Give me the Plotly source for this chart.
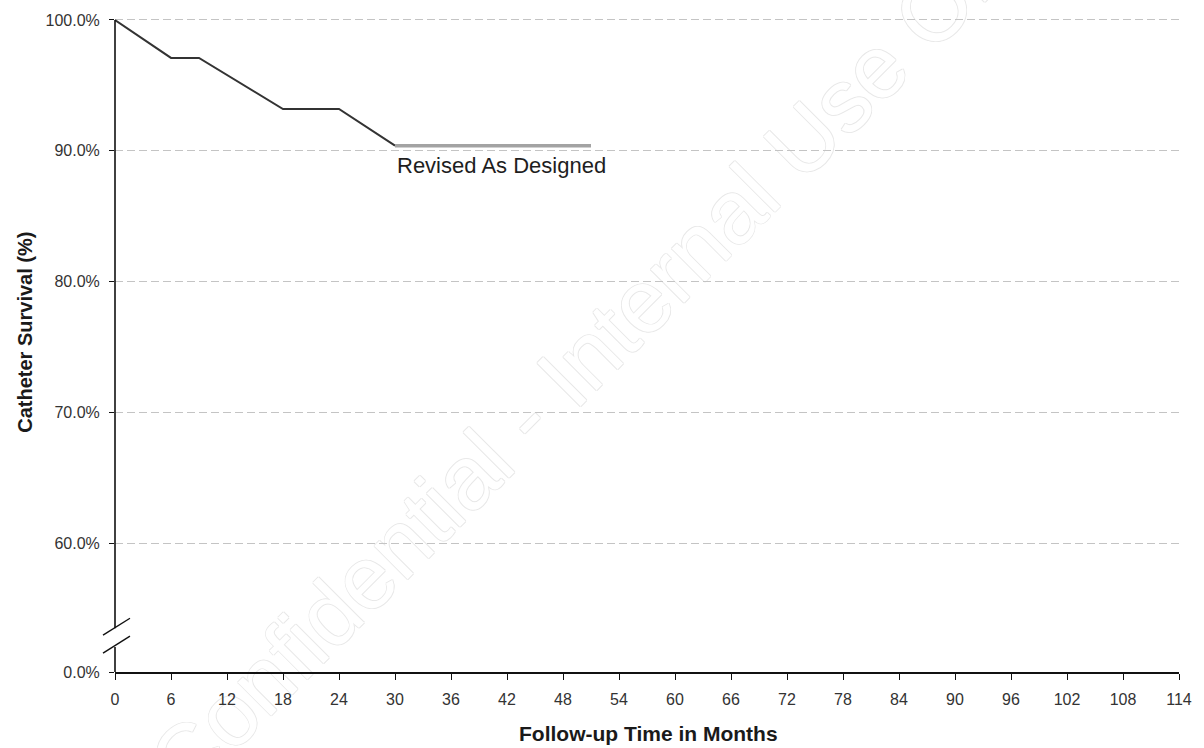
import plotly.graph_objects as go

# Catheter survival, revised-as-designed cohort (months, %)
months_step = [0, 6, 9, 18, 24, 30]
survival_step = [100.0, 97.1, 97.1, 93.2, 93.2, 90.4]
months_flat = [30, 51]
survival_flat = [90.4, 90.4]

x_ticks = list(range(0, 115, 6))
y_break_bottom = 50.19          # axis value drawn at the broken-axis origin
y_tick_vals = [y_break_bottom, 60, 70, 80, 90, 100]
y_tick_text = ["0.0%", "60.0%", "70.0%", "80.0%", "90.0%", "100.0%"]

series_label = "Revised As Designed"
watermark = "Confidential - Internal Use Only"

Y_TOP = 100.15
FONT = "Liberation Sans, Arial, sans-serif"
W, H = 1204, 748
ML, MR, MT, MB = 115, 23, 15, 76
PW = W - ML - MR
PH = H - MT - MB


def yp(v):
    """Axis value -> paper fraction."""
    return (v - y_break_bottom) / (Y_TOP - y_break_bottom)


def px_x(dx):
    """Horizontal pixel offset from the y axis -> paper fraction."""
    return dx / PW


def px_y(py):
    """Absolute page pixel row -> paper fraction."""
    return (H - MB - py) / PH


fig = go.Figure()

fig.add_trace(go.Scatter(
    x=months_step, y=survival_step, mode="lines",
    line=dict(color="#333333", width=2), hoverinfo="skip", showlegend=False,
))
fig.add_trace(go.Scatter(
    x=months_flat, y=survival_flat, mode="lines",
    line=dict(color="#a3a3a3", width=3.5), hoverinfo="skip", showlegend=False,
))

shapes = []
# outlined diagonal watermark, kept underneath grid, axes and data
wm_cx, wm_cy = 482, 334
shapes.append(dict(
    type="rect", xref="paper", yref="paper", layer="below",
    x0=px_x(wm_cx - 5), x1=px_x(wm_cx + 5), y0=px_y(wm_cy + 5), y1=px_y(wm_cy - 5),
    line=dict(width=0), fillcolor="rgba(0,0,0,0)",
    label=dict(text=watermark, textposition="middle center", textangle=-45,
               font=dict(family=FONT, size=89, color="white",
                         shadow="1px 0 0 #e8e8e8, -1px 0 0 #e8e8e8, "
                                "0 1px 0 #e8e8e8, 0 -1px 0 #e8e8e8")),
))
# broken y axis: two vertical pieces and two slash marks
shapes.append(dict(type="line", xref="paper", yref="paper",
                   x0=0, x1=0, y0=yp(100), y1=px_y(628),
                   line=dict(color="#111111", width=1.6)))
shapes.append(dict(type="line", xref="paper", yref="paper",
                   x0=0, x1=0, y0=px_y(647), y1=0,
                   line=dict(color="#111111", width=1.6)))
for y_lo, y_hi in [(635, 618), (653, 636)]:
    shapes.append(dict(type="line", xref="paper", yref="paper",
                       x0=px_x(-12), x1=px_x(15), y0=px_y(y_lo), y1=px_y(y_hi),
                       line=dict(color="#111111", width=1.4)))

annotations = [
    dict(text=series_label, x=41.4, y=88.9, xref="x", yref="y",
         xanchor="center", yanchor="middle", showarrow=False,
         font=dict(family=FONT, size=22, color="#1e1e1e")),
    dict(text="<b>Follow-up Time in Months</b>", x=px_x(535), y=px_y(734),
         xref="paper", yref="paper", xanchor="center", yanchor="middle",
         showarrow=False, font=dict(family=FONT, size=21, color="#1a1a1a")),
    dict(text="<b>Catheter Survival (%)</b>", x=px_x(-91), y=px_y(331),
         xref="paper", yref="paper", xanchor="center", yanchor="middle",
         showarrow=False, textangle=-90,
         font=dict(family=FONT, size=20, color="#1a1a1a")),
]

fig.update_layout(
    width=W, height=H,
    margin=dict(l=ML, r=MR, t=MT, b=MB, pad=0),
    paper_bgcolor="white", plot_bgcolor="rgba(0,0,0,0)",
    showlegend=False,
    shapes=shapes, annotations=annotations,
    xaxis=dict(
        range=[0, 114], tickmode="array", tickvals=x_ticks,
        ticktext=[str(v) for v in x_ticks],
        showgrid=False, zeroline=False,
        showline=True, linecolor="#111111", linewidth=1.6,
        ticks="outside", ticklen=6, tickwidth=1.4, tickcolor="#111111",
        tickfont=dict(family=FONT, size=16, color="#333333"),
        ticklabelstandoff=6,
    ),
    yaxis=dict(
        range=[y_break_bottom, Y_TOP], tickmode="array",
        tickvals=y_tick_vals, ticktext=y_tick_text,
        showgrid=True, gridcolor="#c4c4c4", gridwidth=1.2, griddash="8px,4px",
        zeroline=False, showline=False,
        ticks="outside", ticklen=5, tickwidth=1.4, tickcolor="#111111",
        tickfont=dict(family=FONT, size=16, color="#333333"),
        ticklabelstandoff=6,
    ),
)

fig.write_html("out.html")
